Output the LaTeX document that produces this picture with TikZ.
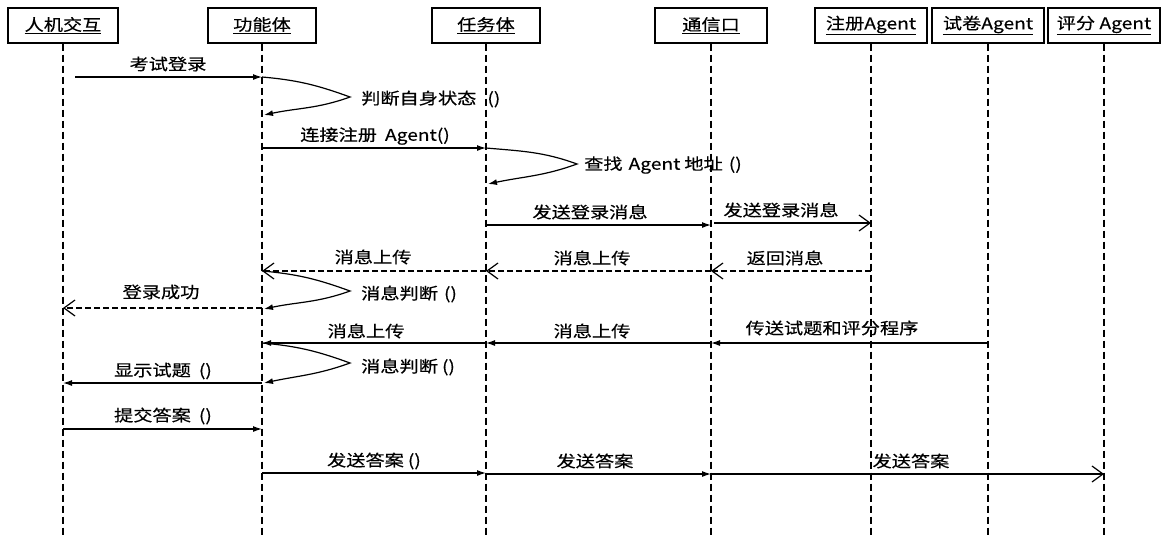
\documentclass[tikz,border=0pt]{standalone}
\usepackage{fontspec}
\setmainfont{Noto Sans CJK SC}[FakeStretch=1.2,FakeBold=0.4]
\usetikzlibrary{arrows.meta}
\begin{document}
\begin{tikzpicture}[x=1pt,y=1pt,
  every node/.style={font=\fontsize{16}{18}\selectfont, inner sep=1pt},
  head/.style={draw, line width=1.4pt, minimum height=35pt, inner sep=0pt},
  life/.style={line width=1.2pt, dash pattern=on 7pt off 4pt},
  msg/.style={line width=1.2pt, -{Latex[length=9pt,width=6pt]}},
  omsg/.style={line width=1.2pt, -{Straight Barb[length=11pt,width=16pt,line width=1.2pt]}},
  ret/.style={omsg, dash pattern=on 6pt off 3pt},
  lbl/.style={anchor=center}]
\useasboundingbox (0,0) rectangle (1167,-536);
% headers
\node[head, minimum width=110pt] (h1) at (63,-25.5) {\underline{人机交互}};
\node[head, minimum width=108pt] (h2) at (262,-25.5) {\underline{功能体}};
\node[head, minimum width=108pt] (h3) at (486,-25.5) {\underline{任务体}};
\node[head, minimum width=112pt] (h4) at (711,-25.5) {\underline{通信口}};
\node[head, minimum width=112pt] (h5) at (871,-25.5) {\underline{注册Agent}};
\node[head, minimum width=112pt] (h6) at (988,-25.5) {\underline{试卷Agent}};
\node[head, minimum width=112pt] (h7) at (1104,-25.5) {\underline{评分 Agent}};
\coordinate (bot) at (0,-536);
\foreach \h in {h1,h2,h3,h4,h5,h6,h7}{\draw[life] (\h.south) -- (\h.south |- bot);}

% 1 考试登录
\coordinate (m1s) at (75,-77); \coordinate (m1e) at (262,-77);
\draw[msg] (m1s) -- (m1e);
\node[lbl] (t1) at (168,-64) {考试登录};
% loop 1
\coordinate (l1t) at (350,-97); \coordinate (l1e) at (264,-115);
\draw[msg] (m1e) to[out=-5,in=160] (l1t) to[out=200,in=12] (l1e);
\node[lbl, anchor=west] (t2) at (360,-99) {判断自身状态\hspace{11pt}()};
% 2 连接注册 Agent()
\coordinate (m2s) at (262,-148); \coordinate (m2e) at (486,-148);
\draw[msg] (m2s) -- (m2e);
\node[lbl] (t3) at (375,-136) {连接注册\hspace{8pt}Agent()};
% loop 2
\coordinate (l2t) at (577,-164); \coordinate (l2e) at (488,-184);
\draw[msg] (m2e) to[out=-5,in=160] (l2t) to[out=200,in=12] (l2e);
\node[lbl, anchor=west] (t4) at (583,-165) {查找\hspace{6pt}Agent\hspace{4pt}地址\hspace{6pt}()};
% 3 发送登录消息
\coordinate (m3s) at (486,-225); \coordinate (m3e) at (711,-225);
\draw[msg] (m3s) -- (m3e);
\node[lbl] (t5) at (590,-212) {发送登录消息};
\coordinate (m4s) at (714,-223); \coordinate (m4e) at (871,-223);
\draw[omsg] (m4s) -- (m4e);
\node[lbl] (t6) at (781,-210) {发送登录消息};
% 返回消息
\coordinate (m5s) at (871,-271); \coordinate (m5e) at (711,-271);
\draw[ret] (m5s) -- (m5e);
\node[lbl] (t7) at (785,-258) {返回消息};
\coordinate (m6e) at (486,-271);
\draw[ret] (m5e) -- (m6e);
\node[lbl] (t8) at (592,-258) {消息上传};
\coordinate (m7e) at (262,-271);
\draw[ret] (m6e) -- (m7e);
\node[lbl] (t9) at (373,-257) {消息上传};
% loop 3
\coordinate (l3t) at (350,-291); \coordinate (l3e) at (264,-309);
\draw[msg] (m7e) to[out=-5,in=160] (l3t) to[out=200,in=12] (l3e);
\node[lbl, anchor=west] (t10) at (360,-294) {消息判断\hspace{6pt}()};
% 登录成功
\coordinate (m8s) at (262,-308); \coordinate (m8e) at (63,-308);
\draw[ret] (m8s) -- (m8e);
\node[lbl] (t11) at (161,-292) {登录成功};
% 传送试题和评分程序
\coordinate (m9s) at (988,-343); \coordinate (m9e) at (711,-343);
\draw[msg] (m9s) -- (m9e);
\node[lbl] (t12) at (832,-328) {传送试题和评分程序};
\coordinate (m10e) at (486,-343);
\draw[msg] (m9e) -- (m10e);
\node[lbl] (t13) at (592,-331) {消息上传};
\coordinate (m11e) at (262,-343);
\draw[msg] (m10e) -- (m11e);
\node[lbl] (t14) at (366,-331) {消息上传};
% loop 4
\coordinate (l4t) at (350,-363); \coordinate (l4e) at (264,-383);
\draw[msg] (m11e) to[out=-5,in=160] (l4t) to[out=200,in=12] (l4e);
\node[lbl, anchor=west] (t15) at (360,-367) {消息判断\hspace{4pt}()};
% 显示试题
\coordinate (m12s) at (262,-383); \coordinate (m12e) at (63,-383);
\draw[msg] (m12s) -- (m12e);
\node[lbl] (t16) at (163,-371) {显示试题\hspace{8pt}()};
% 提交答案
\coordinate (m13s) at (63,-429); \coordinate (m13e) at (262,-429);
\draw[msg] (m13s) -- (m13e);
\node[lbl] (t17) at (163,-416) {提交答案\hspace{8pt}()};
% 发送答案
\coordinate (m14s) at (262,-473); \coordinate (m14e) at (486,-473);
\draw[msg] (m14s) -- (m14e);
\node[lbl] (t18) at (374,-461) {发送答案\hspace{4pt}()};
\coordinate (m15s) at (486,-474); \coordinate (m15e) at (711,-474);
\draw[msg] (m15s) -- (m15e);
\node[lbl] (t19) at (595,-461) {发送答案};
\coordinate (m16e) at (1104,-474);
\draw[omsg] (m15e) -- (m16e);
\node[lbl] (t20) at (911,-461) {发送答案};
\end{tikzpicture}
\end{document}
